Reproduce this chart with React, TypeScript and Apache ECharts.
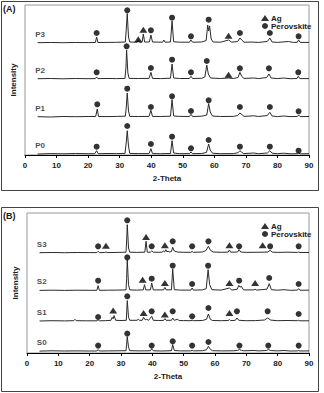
import React, { useEffect, useRef } from "react";
import * as echarts from "echarts";

// ---------- Data (2-Theta, intensity above each pattern's baseline) ----------
const xTickMin = 0;
const xTickMax = 90;
const xTickStep = 10;

const panelALabels = ["P0", "P1", "P2", "P3"];
const panelAOffsets = [1, 38, 76, 112];

const P0 = [[4,0],[8,0.4],[12,0.2],[16,0.5],[20,0.3],[22.1,0.3],[22.7,3.3],[23.2,0.3],[26,0.5],[29,0.4],[31.7,0.6],[32.1,12],[32.4,23.3],[32.8,8],[33.2,0.6],[36,0.4],[39.3,0.4],[39.9,5.3],[40.4,0.4],[43,0.3],[46.1,0.5],[46.6,13.3],[47.1,1],[49,0.3],[52.1,0.4],[52.6,2],[53.1,0.4],[56,0.5],[57.5,1.5],[58.2,10],[58.7,4],[59.4,0.8],[62,0.3],[66,0.4],[67.5,1.2],[68.1,3.3],[68.6,2],[69.3,0.4],[72.5,1],[74,0.3],[76.8,1],[77.6,3.3],[78.3,0.8],[80,0.3],[82,0.8],[84,0.2],[86.3,0.3],[86.7,1],[87.2,0.2],[90,0.3]];
const P1 = [[4,0.3],[8,0],[12,0.5],[16,0.3],[20,0.5],[22.4,0.5],[22.9,8],[23.3,0.5],[26,0.4],[29,0.6],[31.8,0.8],[32.1,10],[32.4,24],[32.8,6],[33.2,0.6],[36,0.5],[39.3,0.6],[39.9,6.7],[40.4,0.6],[43,0.5],[46.1,0.8],[46.6,17.3],[47.1,1],[49,0.6],[52.1,0.5],[52.6,2.7],[53.1,0.5],[56,0.8],[57.6,2],[58.2,13.3],[58.7,5],[59.4,1],[62,0.5],[66,0.6],[67.4,1.5],[68.1,4],[68.7,2.5],[69.4,0.6],[72.5,1.2],[74,0.5],[76.8,1.5],[77.6,4.7],[78.3,1],[80,0.4],[82,1],[84,0.4],[86.3,0.5],[86.7,2],[87.2,0.4],[90,0.5]];
const P2 = [[4,0.3],[8,0.5],[12,0.2],[16,0.5],[20,0.3],[22.3,0.4],[22.7,2],[23.1,0.4],[26,0.5],[29,0.4],[31.7,0.6],[32,12],[32.2,29],[32.6,6],[33,0.6],[36,0.5],[39.3,0.6],[39.9,6.7],[40.4,0.6],[43,0.4],[46.1,0.8],[46.6,15],[47.1,1],[49,0.5],[52.1,0.5],[52.6,2.7],[53.1,0.5],[56,0.7],[57,2],[57.6,14],[58.1,5],[58.8,1],[62,0.5],[64.5,1],[66,0.5],[67.5,1.5],[68.1,6.7],[68.7,2.5],[69.4,0.6],[72.5,1],[74,0.4],[76.6,1.5],[77.3,5],[78,1],[80,0.4],[82,1],[84,0.3],[86.2,0.5],[86.6,2.7],[87.1,0.4],[90,0.4]];
const P3 = [[4,0.3],[8,0.5],[12,0.3],[16,0.5],[20,0.4],[22.3,0.5],[22.7,6],[23.1,0.5],[26,0.6],[29,0.7],[31.8,1],[32.1,14],[32.4,29.4],[32.8,6],[33.2,1],[35.5,0.8],[35.9,2.5],[36.3,0.8],[37.1,0.9],[37.5,9],[37.9,1],[39.4,1],[39.9,8],[40.4,1],[43.6,0.8],[44,3],[44.4,0.8],[46.1,1],[46.6,22],[47.1,1.2],[49,0.8],[52.1,0.8],[52.6,3],[53.1,0.8],[56,1],[57.4,2.5],[57.9,18],[58.2,12],[58.5,17],[59,4],[59.6,1],[62,0.8],[64.5,3],[65.5,0.8],[67.4,1.5],[68.1,5],[68.7,3],[69.4,0.8],[72,0.9],[74,0.6],[76.8,1.5],[77.6,5],[78.3,1],[80,0.6],[83.5,1.5],[85,0.6],[86.3,0.7],[86.7,3],[87.2,0.6],[90,0.6]];

const P0Perovskite = [[22.7,7.3],[32.4,28],[39.9,10],[46.6,17.3],[52.6,5.7],[58.2,14],[68.1,7.3],[77.6,7.3],[86.7,3.3]];
const P0Ag: number[][] = [];
const P1Perovskite = [[22.9,12.7],[32.4,28.3],[39.9,10],[46.6,20.7],[52.6,6],[58.2,16.7],[68.1,10],[77.6,10],[86.7,5.7]];
const P1Ag: number[][] = [];
const P2Perovskite = [[22.7,6.7],[32.2,32.7],[39.9,11],[46.6,19.3],[52.6,6.7],[57.6,18],[68.1,10.7],[77.3,10.7],[86.6,6.7]];
const P2Ag = [[64.5,4.3]];
const P3Perovskite = [[22.7,10],[32.4,32.7],[39.9,12.7],[46.6,25.3],[52.6,6.7],[58.2,23.3],[68.1,10],[77.6,10],[86.7,6.7]];
const P3Ag = [[35.9,3.7],[37.5,13.3],[64.5,7.3]];

const panelBLabels = ["S0", "S1", "S2", "S3"];
const panelBOffsets = [1.7, 31.7, 62.3, 100];

const S0 = [[4,0.2],[8,0.5],[12,0.3],[16,0.4],[20,0.3],[22.3,0.3],[22.7,1.7],[23.1,0.3],[26,0.4],[29,0.5],[31.6,0.6],[31.8,7],[32,14.5],[32.4,4],[32.8,0.6],[36,0.4],[39.4,0.5],[39.8,2.5],[40.3,0.5],[43,0.3],[46.1,0.6],[46.5,6.7],[47,0.8],[49,0.4],[52.3,0.4],[52.7,1],[53.1,0.4],[56,0.6],[57.3,1.5],[57.9,5],[58.5,2],[59.2,0.6],[62,0.4],[66,0.5],[67.2,1],[67.8,1.7],[68.4,1],[69.2,0.5],[72.5,0.8],[74,0.4],[76.4,0.8],[77,1.7],[77.7,0.8],[80,0.4],[82,0.8],[84,0.3],[86.3,0.4],[86.7,0.8],[87.1,0.3],[90,0.4]];
const S1 = [[4,0.3],[8,0.6],[12,0.4],[14.9,0.6],[15.3,2],[15.7,0.6],[19,0.5],[22.3,0.5],[22.7,1.5],[23.1,0.5],[25,0.6],[26.8,1],[27.2,4],[27.5,2.5],[27.8,5.7],[28.3,1],[30,0.8],[31.7,1],[32,20.7],[32.4,4],[32.8,1],[35.1,1],[35.5,2],[35.9,1],[36.8,1],[37.2,4],[37.7,1.5],[38.2,2],[38.8,1],[39.3,3],[39.8,5],[40.3,1],[42,0.8],[43.6,0.9],[44,2.7],[44.4,1],[46.1,1],[46.5,3.3],[47,1],[48,2],[48.6,0.8],[50,0.7],[52.3,0.6],[52.7,1],[53.1,0.6],[56,0.8],[57.3,2],[57.9,7.3],[58.5,2],[59.2,0.8],[62,0.6],[64.2,0.8],[64.6,1.7],[65,0.7],[66.5,1],[67,3.3],[67.6,1],[70,0.6],[73,0.7],[75.8,1.3],[76.8,3.3],[77.8,1.2],[80,0.6],[83,0.8],[86.3,0.6],[86.7,1],[87.1,0.5],[90,0.5]];
const S2 = [[4,0.3],[8,0.5],[12,0.3],[16,0.5],[20,0.4],[22.3,0.4],[22.7,5],[23.1,0.4],[26,0.5],[29,0.6],[31.6,0.8],[31.8,12],[32,31],[32.4,6],[32.8,0.8],[35,0.6],[37.1,0.8],[37.5,6],[37.9,0.8],[39.4,0.8],[39.8,7.7],[40.3,0.8],[43.6,0.8],[44,3.3],[44.4,0.8],[46.1,0.9],[46.5,21.7],[47,1],[49,0.6],[52.3,0.6],[52.7,2.7],[53.1,0.6],[56,0.8],[57.2,2],[57.8,21],[58.3,6],[59,1],[62,0.6],[64.6,2.7],[65.4,0.6],[67.1,1.5],[67.6,5.3],[68,3.5],[68.4,4.5],[69.1,0.8],[72.4,0.8],[72.8,1.5],[73.2,0.6],[76.6,1.5],[77.3,7],[78,1],[80,0.5],[82,1],[84,0.4],[86.3,0.6],[86.7,2],[87.1,0.5],[90,0.5]];
const S3 = [[4,0.3],[8,0.5],[12,0.3],[16,0.5],[20,0.4],[22.3,0.4],[22.7,1.7],[23.1,0.4],[24.8,0.5],[25.2,1],[25.6,0.4],[29,0.6],[31.6,0.8],[31.8,12],[32,28.3],[32.4,5],[32.8,0.8],[35,0.6],[37.6,0.8],[38,11.7],[38.4,0.8],[39.4,0.8],[39.8,2],[40.3,0.8],[42,0.7],[43.1,0.8],[43.5,2],[43.9,1],[44.3,3.3],[44.7,1],[45,2],[45.4,1],[46.1,1.5],[46.5,5.7],[47,2],[48,1],[50,0.7],[52.3,0.7],[52.7,1.5],[53.1,0.7],[56,1],[57.1,2.5],[57.9,6.7],[58.6,2.5],[59.4,1],[62,0.7],[64.2,0.9],[64.6,3],[65,0.8],[67.2,1],[67.7,3.3],[68.2,1],[70,0.6],[75,0.8],[75.2,1],[76.9,1],[77.6,2.7],[78.3,0.9],[80,0.6],[83,0.8],[86.3,0.6],[86.7,1],[87.1,0.5],[90,0.5]];

const S0Perovskite = [[22.7,5.7],[32,17.7],[39.8,5.7],[46.5,10],[52.7,5.7],[57.9,9.3],[67.8,5.7],[77,5.7],[86.7,5.7]];
const S0Ag: number[][] = [];
const S1Perovskite = [[22.7,4.3],[32,25],[39.8,10],[46.5,10],[52.7,5],[57.9,13.3],[67,10],[76.8,10],[86.7,7.3]];
const S1Ag = [[27.5,10.7],[37.2,8.3],[44,6.7],[64.6,8.3]];
const S2Perovskite = [[22.7,10],[32,33.3],[39.8,12],[46.5,25],[52.7,6.7],[57.8,25],[67.7,10],[77.3,12.7],[86.7,6.7]];
const S2Ag = [[36.9,11],[44,7.7],[64.6,7.7],[72.8,7.7]];
const S3Perovskite = [[22.7,6.7],[32,32.7],[39.8,6.7],[46.5,11.7],[52.7,6.7],[57.9,11.7],[67.7,6.7],[77.6,6.7],[86.7,6.7]];
const S3Ag = [[25.2,7.3],[38,16],[44,7.7],[64.6,7.7],[75.2,7.7]];

const legendNames = ["Ag", "Perovskite"];
const axisName = "2-Theta";
const yName = "Intensity";

// ---------- Chart ----------
const FONT = '"Liberation Sans", Arial, Helvetica, sans-serif';
const TXT = "#1a1a1a";

function buildPanel(
  idx: number,
  labels: string[],
  offsets: number[],
  patterns: number[][][],
  perov: number[][][],
  ag: number[][][],
  labelX: number
) {
  const series: any[] = [];
  patterns.forEach((pts, i) => {
    series.push({
      type: "line",
      name: labels[i],
      xAxisIndex: idx,
      yAxisIndex: idx,
      data: pts.map((p) => [p[0], p[1] + offsets[i]]),
      showSymbol: false,
      symbol: "none",
      lineStyle: { color: "#2a2a2a", width: 1 },
      silent: true,
      z: 2,
    });
  });
  series.push({
    type: "scatter",
    name: "__labels" + idx,
    xAxisIndex: idx,
    yAxisIndex: idx,
    symbolSize: 0,
    data: labels.map((l, i) => ({ value: [labelX, offsets[i]], name: l })),
    label: {
      show: true,
      position: "top",
      distance: 5,
      formatter: (p: any) => p.name,
      fontFamily: FONT,
      fontWeight: "bold",
      fontSize: 8,
      color: TXT,
    },
    silent: true,
    z: 3,
  });
  series.push({
    type: "scatter",
    name: "Perovskite",
    xAxisIndex: idx,
    yAxisIndex: idx,
    symbol: "circle",
    symbolSize: 6,
    itemStyle: { color: "#000" },
    data: perov.flatMap((arr, i) => arr.map((p) => [p[0], p[1] + offsets[i]])),
    z: 4,
  });
  series.push({
    type: "scatter",
    name: "Ag",
    xAxisIndex: idx,
    yAxisIndex: idx,
    symbol: "triangle",
    symbolSize: [8, 6],
    itemStyle: { color: "#000" },
    data: ag.flatMap((arr, i) => arr.map((p) => [p[0], p[1] + offsets[i]])),
    z: 4,
  });
  return series;
}

function xAxisCfg(gridIndex: number) {
  return {
    type: "value",
    gridIndex,
    min: xTickMin,
    max: xTickMax,
    interval: xTickStep,
    name: axisName,
    nameLocation: "middle",
    nameGap: 19,
    nameTextStyle: { fontFamily: FONT, fontWeight: "bold", fontSize: 8, color: TXT },
    axisLine: { show: true, lineStyle: { color: "#000", width: 1 } },
    axisTick: { show: true, length: 3, lineStyle: { color: "#000" } },
    axisLabel: { fontFamily: FONT, fontWeight: "bold", fontSize: 8, color: TXT, margin: 6 },
    splitLine: { show: false },
  };
}

function yAxisCfg(gridIndex: number, max: number) {
  return {
    type: "value",
    gridIndex,
    min: 0,
    max,
    name: yName,
    nameLocation: "middle",
    nameRotate: 90,
    nameGap: 8,
    nameTextStyle: { fontFamily: FONT, fontWeight: "bold", fontSize: 8, color: TXT },
    axisLine: { show: false },
    axisTick: { show: false },
    axisLabel: { show: false },
    splitLine: { show: false },
  };
}

function legendCfg(top: number) {
  return {
    orient: "vertical",
    left: 256,
    top,
    itemWidth: 8,
    itemHeight: 6,
    itemGap: 0,
    selectedMode: false,
    data: [
      { name: legendNames[0], icon: "triangle" },
      { name: legendNames[1], icon: "circle" },
    ],
    textStyle: { fontFamily: FONT, fontWeight: "bold", fontSize: 8, color: TXT, padding: [0, 0, 0, -3] },
  };
}

export default function App() {
  const ref = useRef<HTMLDivElement>(null);
  useEffect(() => {
    if (!ref.current) return;
    const chart = echarts.init(ref.current, undefined, { renderer: "svg" });
    const option: any = {
      animation: false,
      backgroundColor: "#fff",
      grid: [
        { left: 25, top: 5, width: 284, height: 150, show: true, borderColor: "#999", borderWidth: 1, backgroundColor: "transparent" },
        { left: 27, top: 213, width: 282, height: 140, show: true, borderColor: "#999", borderWidth: 1, backgroundColor: "transparent" },
      ],
      xAxis: [xAxisCfg(0), xAxisCfg(1)],
      yAxis: [yAxisCfg(0, 150), yAxisCfg(1, 140)],
      legend: [legendCfg(9), legendCfg(217)],
      graphic: [
        { type: "rect", shape: { x: 1.5, y: 1.5, width: 317, height: 189 }, style: { fill: "none", stroke: "#444", lineWidth: 1 }, silent: true },
        { type: "rect", shape: { x: 1.5, y: 207.5, width: 317, height: 184 }, style: { fill: "none", stroke: "#444", lineWidth: 1 }, silent: true },
        { type: "text", left: 3, top: 4, style: { text: "(A)", font: `bold 9px ${FONT}`, fill: TXT } },
        { type: "text", left: 3, top: 211, style: { text: "(B)", font: `bold 9px ${FONT}`, fill: TXT } },
      ],
      series: [
        ...buildPanel(0, panelALabels, panelAOffsets, [P0, P1, P2, P3],
          [P0Perovskite, P1Perovskite, P2Perovskite, P3Perovskite], [P0Ag, P1Ag, P2Ag, P3Ag], 4.8),
        ...buildPanel(1, panelBLabels, panelBOffsets, [S0, S1, S2, S3],
          [S0Perovskite, S1Perovskite, S2Perovskite, S3Perovskite], [S0Ag, S1Ag, S2Ag, S3Ag], 4.7),
      ],
    };
    chart.setOption(option);
    return () => chart.dispose();
  }, []);
  return (
    <div
      ref={ref}
      style={{ position: "absolute", left: 0, top: 0, width: 324, height: 393, background: "#fff" }}
    />
  );
}
